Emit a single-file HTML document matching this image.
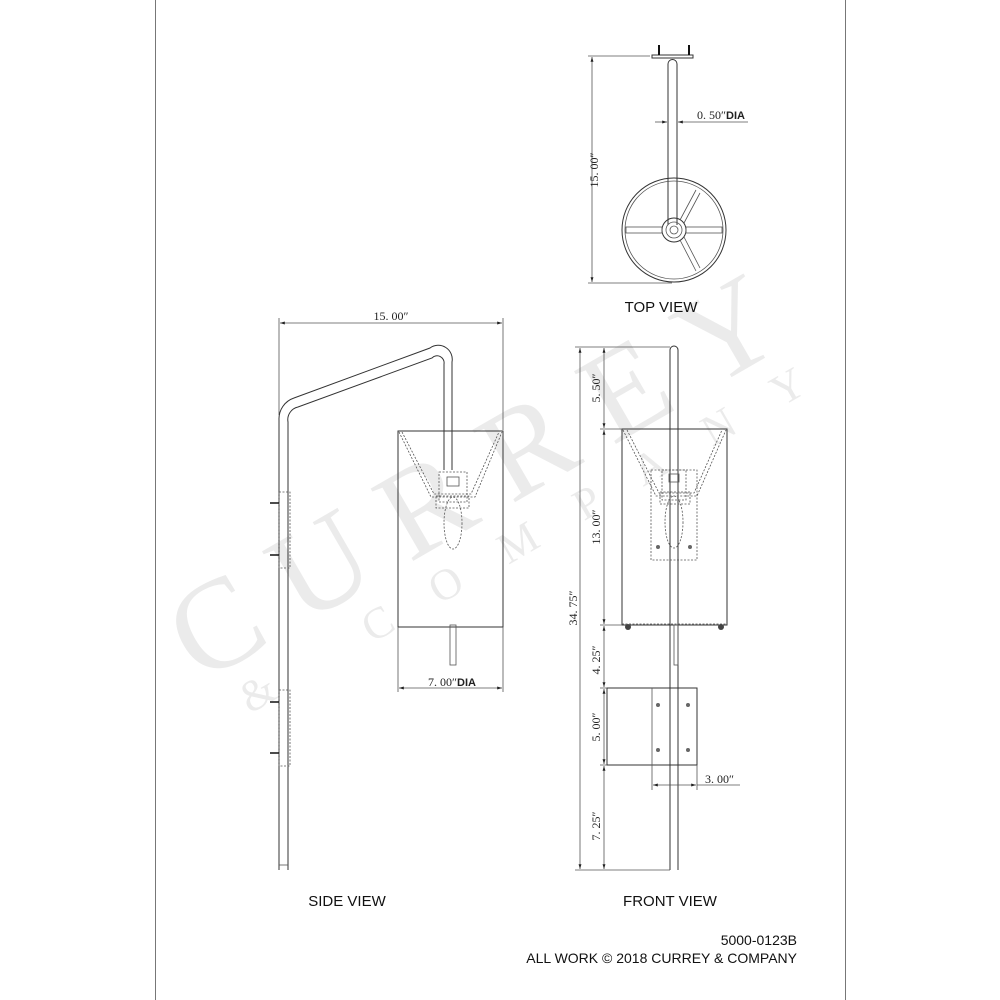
<!DOCTYPE html>
<html><head><meta charset="utf-8"><style>
html,body{margin:0;padding:0;background:#fff;}
svg{display:block;}
.l{stroke:#333;stroke-width:1;fill:none;}
.t{stroke:#555;stroke-width:0.8;fill:none;}
.d{stroke:#555;stroke-width:0.8;fill:none;stroke-dasharray:2 1.5;}
.lab{font-family:"Liberation Sans",sans-serif;font-size:15px;fill:#111;}
.dim{font-family:"Liberation Serif",serif;font-size:12px;fill:#222;}
</style></head><body>
<svg width="1000" height="1000" viewBox="0 0 1000 1000" xmlns="http://www.w3.org/2000/svg">
<defs>
<marker id="a" viewBox="0 0 10 10" refX="10" refY="5" markerWidth="8" markerHeight="6" orient="auto-start-reverse"><path d="M0,2 L10,5 L0,8 z" fill="#222"/></marker>
</defs>
<text x="200" y="684" transform="rotate(-30 200 684)" font-family="Liberation Serif,serif" font-size="128" letter-spacing="32" fill="#ebebeb">CURREY</text>
<text x="250" y="714" transform="rotate(-30 250 714)" font-family="Liberation Serif,serif" font-size="44" letter-spacing="48" fill="#ebebeb">&amp; COMPANY</text>
<line x1="155.5" y1="0" x2="155.5" y2="1000" stroke="#777"/>
<line x1="845.5" y1="0" x2="845.5" y2="1000" stroke="#777"/>

<rect x="652" y="55" width="41" height="3" class="l"/>
<line x1="659" y1="45" x2="659" y2="55" stroke="#111" stroke-width="2"/>
<line x1="689" y1="45" x2="689" y2="55" stroke="#111" stroke-width="2"/>
<path d="M668,225 L668,64 A4.5,4.5 0 0 1 677,64 L677,225" class="l"/>
<circle cx="674" cy="230" r="52" class="l"/>
<circle cx="674" cy="230" r="49" class="t"/>
<circle cx="674" cy="230" r="12" class="l"/>
<circle cx="674" cy="230" r="8" class="t"/>
<circle cx="674" cy="230" r="4" class="t"/>
<rect x="626" y="227" width="36" height="6" class="t"/>
<rect x="686" y="227" width="36" height="6" class="t"/>
<path d="M680,220 L696,190 M684,223 L700,193" class="t"/>
<path d="M680,240 L696,271 M684,237 L700,268" class="t"/>
<line x1="588" y1="56" x2="650" y2="56" class="t"/>
<line x1="588" y1="283" x2="672" y2="283" class="t"/>
<line x1="592" y1="57" x2="592" y2="282" class="t" marker-start="url(#a)" marker-end="url(#a)"/>
<text class="dim" transform="translate(598,170) rotate(-90)" text-anchor="middle">15. 00″</text>
<line x1="655" y1="122" x2="667" y2="122" class="t" marker-end="url(#a)"/>
<line x1="748" y1="122" x2="678" y2="122" class="t" marker-end="url(#a)"/>
<text class="dim" x="697" y="119">0. 50″<tspan font-family="Liberation Sans,sans-serif" font-weight="bold" font-size="11">DIA</tspan></text>
<text class="lab" x="661" y="312" text-anchor="middle">TOP VIEW</text>

<line x1="279" y1="318" x2="279" y2="415" class="t"/>
<line x1="503" y1="318" x2="503" y2="430" class="t"/>
<line x1="280" y1="323" x2="502" y2="323" class="t" marker-start="url(#a)" marker-end="url(#a)"/>
<text class="dim" x="391" y="320" text-anchor="middle">15. 00″</text>
<path d="M279,870 L279,420 A22,22 0 0 1 294,398 L430,348 A14,14 0 0 1 452,362 L452,470" class="l"/>
<path d="M288,870 L288,422 A13,13 0 0 1 298,407 L432,358 A7,7 0 0 1 444,364 L444,470" class="l"/>
<rect x="279" y="492" width="11" height="76" class="d"/>
<rect x="279" y="690" width="11" height="76" class="d"/>
<path d="M270,503 L279,503 M270,555 L279,555 M270,702 L279,702 M270,753 L279,753" stroke="#111" stroke-width="1.6"/>
<line x1="279" y1="865" x2="288" y2="865" class="t"/>
<rect x="398" y="431" width="105" height="196" class="l"/>
<line x1="398" y1="627" x2="398" y2="692" class="t"/>
<line x1="503" y1="627" x2="503" y2="692" class="t"/>
<path d="M399,432 L431,497 L475,497 L502,432" class="d"/>
<path d="M402,432 L434,494 L471,494 L499,432" class="d"/>
<rect x="439" y="472" width="28" height="30" class="d"/>
<rect x="447" y="477" width="12" height="9" class="t"/>
<rect x="436" y="496" width="33" height="12" class="d"/>
<ellipse cx="453" cy="523" rx="9" ry="26" class="d"/>
<rect x="450" y="625" width="6" height="40" class="t"/>
<line x1="399" y1="688" x2="502" y2="688" class="t" marker-start="url(#a)" marker-end="url(#a)"/>
<text class="dim" x="452" y="686" text-anchor="middle" font-size="13">7. 00″<tspan font-family="Liberation Sans,sans-serif" font-weight="bold" font-size="11">DIA</tspan></text>
<text class="lab" x="347" y="906" text-anchor="middle">SIDE VIEW</text>

<path d="M670,870 L670,350 A4,4 0 0 1 678,350 L678,870" class="l"/>
<rect x="622" y="429" width="105" height="196" class="l"/>
<path d="M623,430 L656,496 L697,496 L726,430" class="d"/>
<path d="M627,430 L659,493 L694,493 L722,430" class="d"/>
<rect x="651" y="470" width="46" height="90" class="d"/>
<rect x="662" y="470" width="24" height="30" class="d"/>
<rect x="669" y="474" width="10" height="8" class="t"/>
<rect x="660" y="492" width="30" height="12" class="d"/>
<ellipse cx="674" cy="522" rx="9" ry="26" class="d"/>
<circle cx="658" cy="547" r="2" fill="#666"/><circle cx="690" cy="547" r="2" fill="#666"/>
<line x1="622" y1="624" x2="727" y2="624" class="d"/>
<circle cx="628" cy="627" r="3" fill="#444"/><circle cx="721" cy="627" r="3" fill="#444"/>
<rect x="674" y="625" width="4" height="40" class="t"/>
<rect x="607" y="688" width="90" height="77" class="l"/>
<line x1="652" y1="688" x2="652" y2="765" class="t"/>
<circle cx="658" cy="705" r="2" fill="#666"/><circle cx="688" cy="705" r="2" fill="#666"/>
<circle cx="658" cy="750" r="2" fill="#666"/><circle cx="688" cy="750" r="2" fill="#666"/>
<line x1="652" y1="765" x2="652" y2="790" class="t"/>
<line x1="697" y1="765" x2="697" y2="790" class="t"/>
<line x1="653" y1="785" x2="696" y2="785" class="t" marker-start="url(#a)" marker-end="url(#a)"/>
<line x1="697" y1="785" x2="740" y2="785" class="t"/>
<text class="dim" x="705" y="783" font-size="13">3. 00″</text>
<path d="M575,347 L670,347 M600,429 L622,429 M600,625 L622,625 M600,688 L607,688 M600,765 L607,765 M575,870 L670,870" class="t"/>
<line x1="580" y1="348" x2="580" y2="869" class="t" marker-start="url(#a)" marker-end="url(#a)"/>
<line x1="604" y1="348" x2="604" y2="428" class="t" marker-start="url(#a)" marker-end="url(#a)"/>
<line x1="604" y1="430" x2="604" y2="624" class="t" marker-start="url(#a)" marker-end="url(#a)"/>
<line x1="604" y1="626" x2="604" y2="687" class="t" marker-start="url(#a)" marker-end="url(#a)"/>
<line x1="604" y1="689" x2="604" y2="764" class="t" marker-start="url(#a)" marker-end="url(#a)"/>
<line x1="604" y1="766" x2="604" y2="869" class="t" marker-start="url(#a)" marker-end="url(#a)"/>
<text class="dim" transform="translate(577,608) rotate(-90)" text-anchor="middle">34. 75″</text>
<text class="dim" transform="translate(600,388) rotate(-90)" text-anchor="middle">5. 50″</text>
<text class="dim" transform="translate(600,527) rotate(-90)" text-anchor="middle">13. 00″</text>
<text class="dim" transform="translate(600,660) rotate(-90)" text-anchor="middle">4. 25″</text>
<text class="dim" transform="translate(600,727) rotate(-90)" text-anchor="middle">5. 00″</text>
<text class="dim" transform="translate(600,826) rotate(-90)" text-anchor="middle">7. 25″</text>
<text class="lab" x="670" y="906" text-anchor="middle">FRONT VIEW</text>

<text x="797" y="945" text-anchor="end" font-family="Liberation Sans,sans-serif" font-size="14" fill="#111">5000-0123B</text>
<text x="797" y="963" text-anchor="end" font-family="Liberation Sans,sans-serif" font-size="14" fill="#111">ALL WORK © 2018 CURREY &amp; COMPANY</text>
</svg>
</body></html>
